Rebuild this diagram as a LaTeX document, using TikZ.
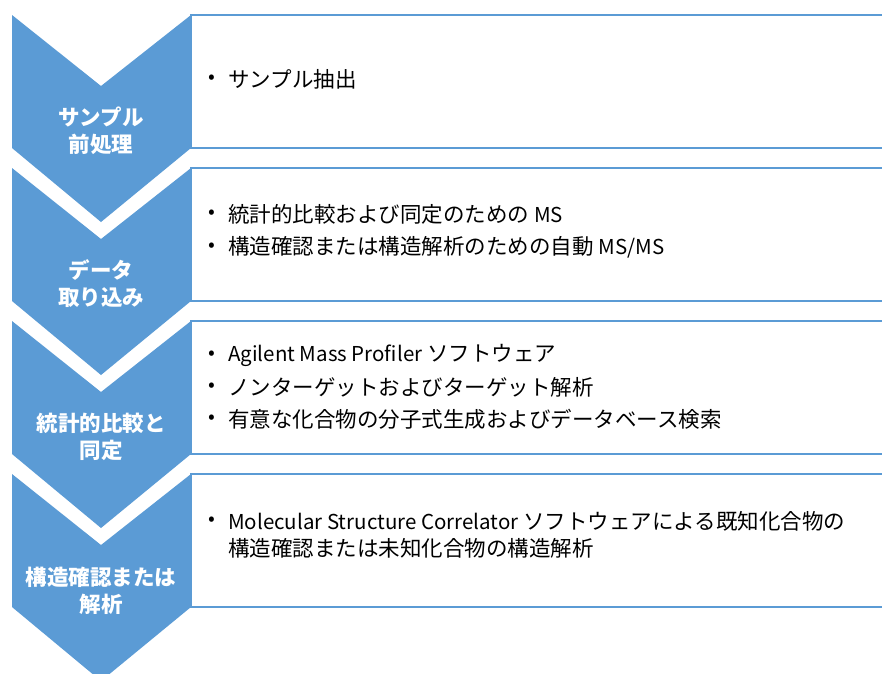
\documentclass[tikz,border=0pt]{standalone}
\usepackage{fontspec}
\setmainfont{Noto Sans CJK JP}
\definecolor{chevblue}{RGB}{91,155,213}
\newcommand{\lat}[1]{{\fontsize{20.5}{26}\selectfont #1}}
\tikzset{
  chevron/.style={fill=chevblue, draw=none},
  infobox/.style={draw=chevblue, line width=2.6pt, fill=white},
  label/.style={text=white, font=\fontsize{21.5}{27}\selectfont\bfseries, align=center, inner sep=0pt},
  bul/.style={font=\fontsize{20}{20}\selectfont, inner sep=0pt},
  item/.style={anchor=west, font=\fontsize{21.5}{26}\selectfont, inner sep=0pt}
}
\newcommand{\chev}[1]{%
  \fill[chevblue] (12,#1) -- (101,#1+71) -- (191,#1) -- (191,#1+133) -- (101,#1+207) -- (12,#1+133) -- cycle;
  \draw[infobox] (191,#1) rectangle (900,#1+133);
}
\begin{document}
\begin{tikzpicture}[x=1pt,y=-1pt]
\useasboundingbox (0,0) rectangle (882,673);
\begin{scope}
\clip (0,0) rectangle (882,673);
\chev{15}
\chev{168}
\chev{321}
\chev{474}
\end{scope}
% left labels
\node[label] (lab1) at (101,130.5) {サンプル\\前処理};
\node[label] (lab2) at (101,283.5) {データ\\取り込み};
\node[label] (lab3) at (101,436.5) {統計的比較と\\同定};
\node[label] (lab4) at (101,591) {構造確認または\\解析};
% box 1
\node[bul] (b11) at (212,79) {•};
\node[item] (t11) at (228,79) {サンプル抽出};
% box 2
\node[bul] (b21) at (212,214) {•};
\node[item] (t21) at (228,214) {統計的比較および同定のための \lat{MS}};
\node[bul] (b22) at (212,247) {•};
\node[item] (t22) at (228,247) {構造確認または構造解析のための自動 \lat{MS/MS}};
% box 3
\node[bul] (b31) at (212,355) {•};
\node[item] (t31) at (228,355) {\lat{Agilent Mass Profiler} ソフトウェア};
\node[bul] (b32) at (212,387) {•};
\node[item] (t32) at (228,387) {ノンターゲットおよびターゲット解析};
\node[bul] (b33) at (212,419) {•};
\node[item] (t33) at (228,419) {有意な化合物の分子式生成およびデータベース検索};
% box 4
\node[bul] (b41) at (212,521) {•};
\node[item] (t41) at (228,521) {\lat{Molecular Structure Correlator} ソフトウェアによる既知化合物の};
\node[item] (t42) at (228,548) {構造確認または未知化合物の構造解析};
\end{tikzpicture}
\end{document}
